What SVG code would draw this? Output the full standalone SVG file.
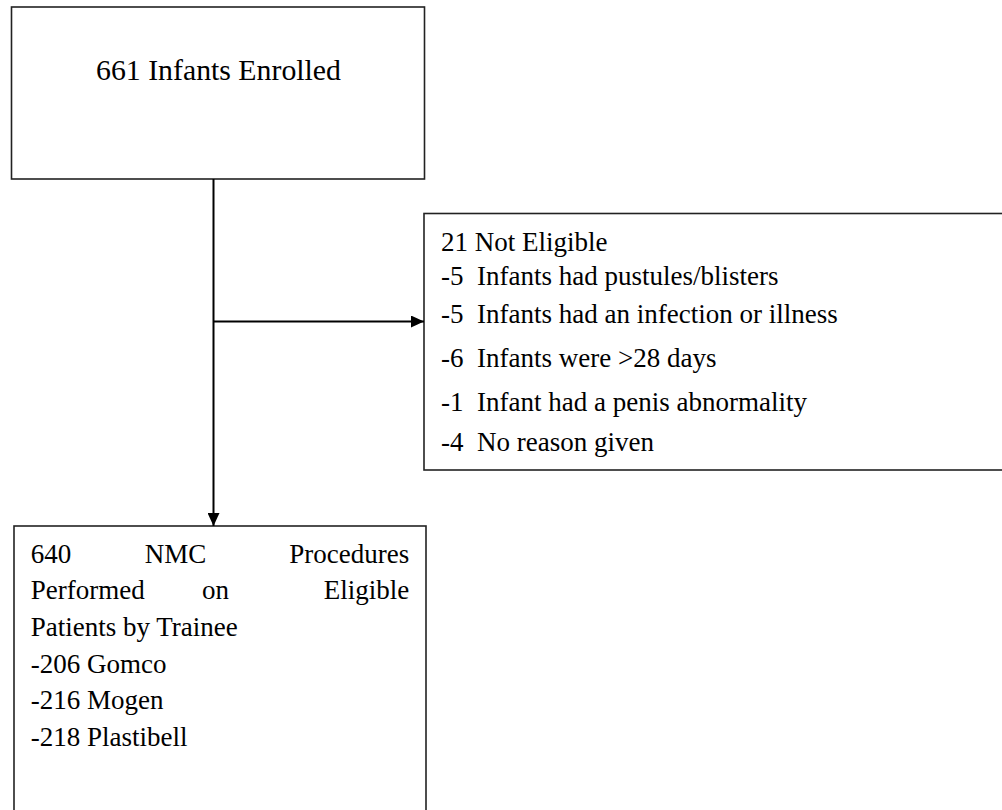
<svg xmlns="http://www.w3.org/2000/svg" width="1002" height="810" viewBox="0 0 1002 810">
<style>
.box{fill:#fff;stroke:#222;stroke-width:1.6}
.t{font-family:'Liberation Serif','Times New Roman',Times,serif;font-size:27px;fill:#000}
.c{stroke:#000;stroke-width:2;fill:none}
</style>
<defs>
<marker id="arr" markerWidth="13" markerHeight="12" refX="13" refY="6" orient="auto" markerUnits="userSpaceOnUse">
<path d="M0,0 L13,6 L0,12 Z" fill="#000"/>
</marker>
</defs>
<rect width="1002" height="810" fill="#fff"/>
<g id="enrolled">
<rect class="box" x="11.5" y="7" width="413" height="172"/>
<text class="t" x="218.5" y="80" text-anchor="middle" font-family="Liberation Serif, serif" style="font-size:29.8px">661 Infants Enrolled</text>
</g>
<g id="not-eligible">
<rect class="box" x="424" y="213.5" width="600" height="256.5"/>
<text class="t" x="441" y="250.7">21 Not Eligible</text>
<text class="t" x="441" y="285" xml:space="preserve">-5  Infants had pustules/blisters</text>
<text class="t" x="441" y="322.7" xml:space="preserve">-5  Infants had an infection or illness</text>
<text class="t" x="441" y="367.3" xml:space="preserve">-6  Infants were &gt;28 days</text>
<text class="t" x="441" y="410.7" xml:space="preserve">-1  Infant had a penis abnormality</text>
<text class="t" x="441" y="451" xml:space="preserve">-4  No reason given</text>
</g>
<g id="procedures">
<rect class="box" x="14" y="526" width="412" height="300"/>
<text class="t" y="563.3"><tspan x="30.7">640</tspan><tspan x="175.5" text-anchor="middle">NMC</tspan><tspan x="409.3" text-anchor="end">Procedures</tspan></text>
<text class="t" y="599.3"><tspan x="30.7">Performed</tspan><tspan x="215.5" text-anchor="middle">on</tspan><tspan x="409.3" text-anchor="end">Eligible</tspan></text>
<text class="t" x="30.7" y="636">Patients by Trainee</text>
<text class="t" x="30.7" y="672.7">-206 Gomco</text>
<text class="t" x="30.7" y="709.3">-216 Mogen</text>
<text class="t" x="30.7" y="746">-218 Plastibell</text>
</g>
<g id="connectors">
<line class="c" x1="213.5" y1="179" x2="213.5" y2="526" marker-end="url(#arr)"/>
<line class="c" x1="213.5" y1="321.5" x2="424" y2="321.5" marker-end="url(#arr)"/>
</g>
</svg>
